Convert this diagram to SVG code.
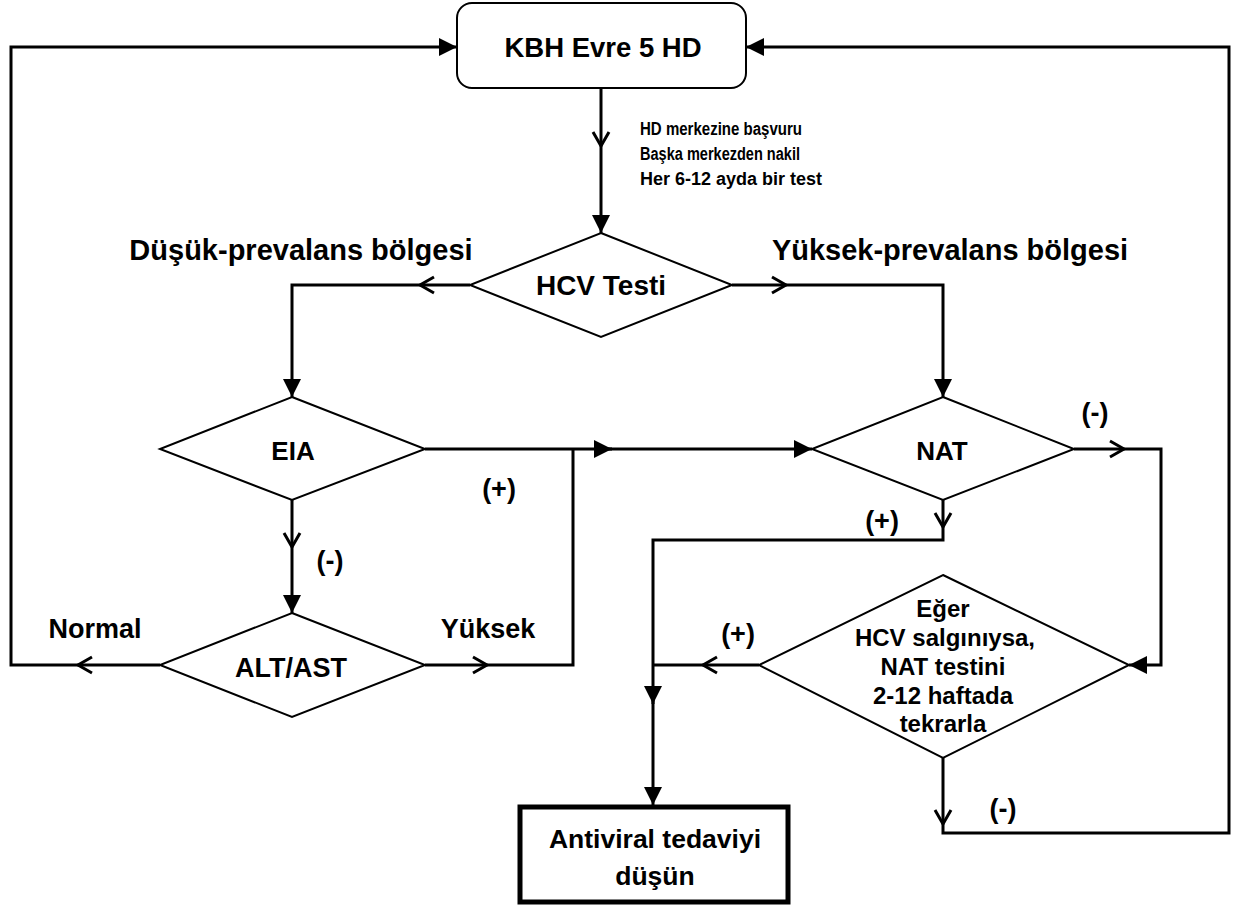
<svg xmlns="http://www.w3.org/2000/svg" width="1233" height="906" viewBox="0 0 1233 906">
<defs>
<style>
.t{font-family:"Liberation Sans",Arial,sans-serif;font-weight:bold;fill:#000;text-anchor:middle}
.s{font-family:"Liberation Sans",Arial,sans-serif;font-weight:bold;fill:#000;font-size:18px}
.n{fill:#fff;stroke:#000;stroke-width:2}
.c{fill:none;stroke:#000;stroke-width:3}
.o{fill:none;stroke:#000;stroke-width:3}
</style>
<marker id="f" viewBox="0 0 10 10" refX="10" refY="5" markerWidth="6" markerHeight="6" orient="auto" markerUnits="strokeWidth">
<path d="M0,0 L10,5 L0,10 z" fill="#000"/>
</marker>
</defs>
<rect width="1233" height="906" fill="#fff"/>
<g id="connectors">
<path class="c" d="M601,88 V233" marker-end="url(#f)"/>
<path class="c" d="M470,285 H292 V397" marker-end="url(#f)"/>
<path class="c" d="M732,285 H943 V397" marker-end="url(#f)"/>
<path class="c" d="M425,449 H612" marker-end="url(#f)"/>
<path class="c" d="M600,449 H812" marker-end="url(#f)"/>
<path class="c" d="M292,500 V613" marker-end="url(#f)"/>
<path class="c" d="M160,665 H11 V47 H457" marker-end="url(#f)"/>
<path class="c" d="M425,665 H573 V449"/>
<path class="c" d="M1074,449 H1161 V665 H1129" marker-end="url(#f)"/>
<path class="c" d="M943,500 V540 H653 V704" marker-end="url(#f)"/>
<path class="c" d="M653,700 V805" marker-end="url(#f)"/>
<path class="c" d="M759,665 H653"/>
<path class="c" d="M943,758 V833 H1229 V47 H746" marker-end="url(#f)"/>
<path class="o" d="M593,132 L601,146 L609,132"/>
<path class="o" d="M434,277 L420,285 L434,293"/>
<path class="o" d="M772,277 L786,285 L772,293"/>
<path class="o" d="M284,533 L292,547 L300,533"/>
<path class="o" d="M92,657 L78,665 L92,673"/>
<path class="o" d="M473,657 L487,665 L473,673"/>
<path class="o" d="M1110,441 L1124,449 L1110,457"/>
<path class="o" d="M935,513 L943,527 L951,513"/>
<path class="o" d="M717,657 L703,665 L717,673"/>
<path class="o" d="M935,810 L943,824 L951,810"/>
</g>
<g id="kbh">
<rect class="n" x="457" y="3" width="289" height="85" rx="15"/>
<text class="t" x="603" y="57" font-size="27.5">KBH Evre 5 HD</text>
</g>
<g id="note">
<text class="s" x="640" y="135" textLength="162" lengthAdjust="spacingAndGlyphs">HD merkezine başvuru</text>
<text class="s" x="640" y="160" textLength="160" lengthAdjust="spacingAndGlyphs">Başka merkezden nakil</text>
<text class="s" x="640" y="185" textLength="182" lengthAdjust="spacingAndGlyphs">Her 6-12 ayda bir test</text>
</g>
<g id="hcv">
<polygon class="n" points="601,233 732,285 601,337 470,285"/>
<text class="t" x="601" y="295" font-size="28">HCV Testi</text>
</g>
<g id="regions">
<text class="t" x="301" y="260" font-size="29">Düşük-prevalans bölgesi</text>
<text class="t" x="950" y="260" font-size="29">Yüksek-prevalans bölgesi</text>
</g>
<g id="eia">
<polygon class="n" points="292,397 425,449 292,500 160,449"/>
<text class="t" x="293" y="460" font-size="26">EIA</text>
</g>
<g id="nat">
<polygon class="n" points="943,397 1074,449 943,500 812,449"/>
<text class="t" x="942" y="460" font-size="26">NAT</text>
</g>
<g id="altast">
<polygon class="n" points="292,613 425,665 292,717 160,665"/>
<text class="t" x="291" y="677" font-size="27">ALT/AST</text>
</g>
<g id="eger">
<polygon class="n" points="943,575 1129,665 943,758 759,665"/>
<text class="t" x="943" y="617" font-size="24">Eğer</text>
<text class="t" x="945" y="646" font-size="24">HCV salgınıysa,</text>
<text class="t" x="943" y="675" font-size="24">NAT testini</text>
<text class="t" x="943" y="704" font-size="24">2-12 haftada</text>
<text class="t" x="943" y="732" font-size="24">tekrarla</text>
</g>
<g id="antiviral">
<rect x="520" y="807" width="268" height="95" fill="#fff" stroke="#000" stroke-width="5"/>
<text class="t" x="655" y="848" font-size="26.5">Antiviral tedaviyi</text>
<text class="t" x="655" y="885" font-size="26.5">düşün</text>
</g>
<g id="labels">
<text class="t" x="95" y="638" font-size="27">Normal</text>
<text class="t" x="488" y="638" font-size="27">Yüksek</text>
<text class="t" x="499" y="498" font-size="27">(+)</text>
<text class="t" x="330" y="570" font-size="27">(-)</text>
<text class="t" x="1095" y="422" font-size="27">(-)</text>
<text class="t" x="882" y="530" font-size="27">(+)</text>
<text class="t" x="738" y="643" font-size="27">(+)</text>
<text class="t" x="1003" y="818" font-size="27">(-)</text>
</g>
</svg>
